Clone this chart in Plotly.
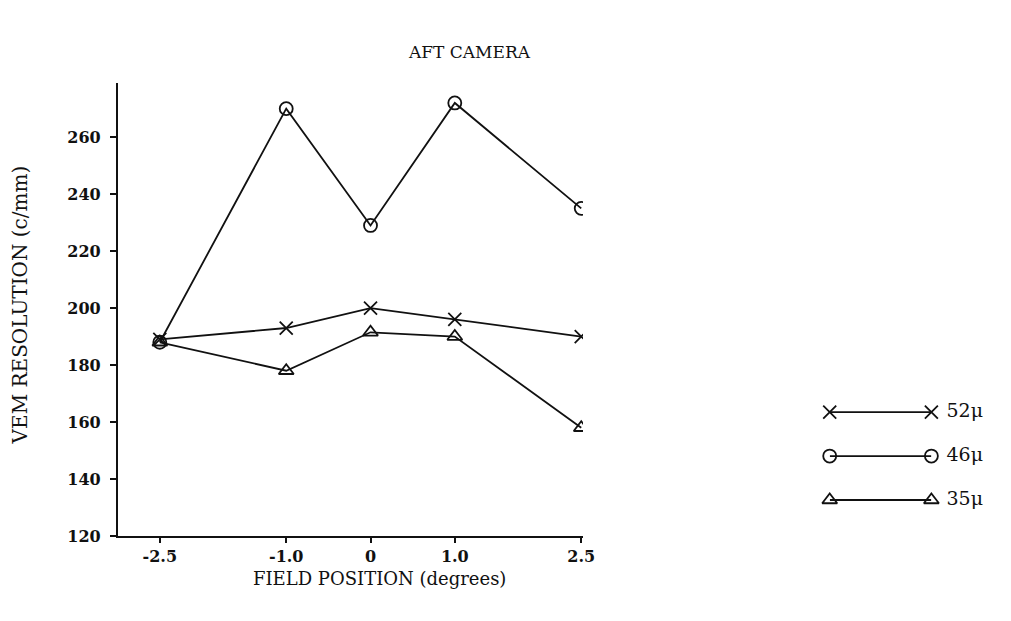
import plotly.graph_objects as go

# Field positions (degrees) and VEM resolution (c/mm) per film grain size
field_position = [-2.5, -1.0, 0.0, 1.0, 2.5]
res_52 = [189, 193, 200, 196, 190]
res_46 = [188, 270, 229, 272, 235]
res_35 = [188, 178, 191.5, 190, 158]

series_names = ["52\u03bc", "46\u03bc", "35\u03bc"]
series_symbols = ["x-thin-open", "circle-open", "triangle-up-open"]
y_ticks = [120, 140, 160, 180, 200, 220, 240, 260]
x_ticks = [-2.5, -1.0, 0.0, 1.0, 2.5]
x_tick_text = ["-2.5", "-1.0", "0", "1.0", "2.5"]

FONT = "DejaVu Serif"
INK = "#111111"
LW = 1.8

fig = go.Figure()

for vals, name, sym in zip([res_52, res_46, res_35], series_names, series_symbols):
    fig.add_trace(go.Scatter(
        x=field_position, y=vals, mode="lines+markers", name=name,
        line=dict(color=INK, width=LW),
        marker=dict(symbol=sym, size=13, color=INK, line=dict(color=INK, width=LW)),
        showlegend=False, xaxis="x", yaxis="y",
    ))

# Key drawn as line segments on a small separate axis
for row, (name, sym) in enumerate(zip(series_names, series_symbols)):
    fig.add_trace(go.Scatter(
        x=[0, 1], y=[3 - row, 3 - row], mode="lines+markers+text",
        text=["", " " + name], textposition="middle right",
        textfont=dict(family=FONT, size=19, color=INK),
        line=dict(color=INK, width=LW),
        marker=dict(symbol=sym, size=13, color=INK, line=dict(color=INK, width=LW)),
        showlegend=False, xaxis="x2", yaxis="y2", cliponaxis=False,
    ))

fig.update_layout(
    width=1011, height=621,
    margin=dict(l=118, r=20, t=83, b=85),
    paper_bgcolor="white", plot_bgcolor="white",
    font=dict(family=FONT, color=INK, size=14),
    annotations=[
        dict(text="AFT CAMERA", xref="paper", yref="paper", x=0.405, y=1.068,
             xanchor="center", yanchor="middle", showarrow=False,
             font=dict(family=FONT, size=17, color=INK)),
        dict(text="FIELD POSITION (degrees)", xref="paper", yref="paper",
             x=0.301, y=-0.093, xanchor="center", yanchor="middle",
             showarrow=False, font=dict(family=FONT, size=18, color=INK)),
        dict(text="VEM RESOLUTION (c/mm)", xref="paper", yref="paper",
             x=-0.1123, y=0.51, xanchor="center", yanchor="middle", textangle=-90,
             showarrow=False, font=dict(family=FONT, size=20, color=INK)),
    ],
    xaxis=dict(
        domain=[0, 0.535], range=[-2.996, 2.52],
        tickmode="array", tickvals=x_ticks, ticktext=x_tick_text,
        ticks="outside", ticklen=5, tickwidth=1.8, tickcolor=INK,
        showline=True, linecolor=INK, linewidth=2.2, showgrid=False, zeroline=False,
        tickfont=dict(family=FONT, size=16, color=INK, weight="bold"),
    ),
    yaxis=dict(
        range=[120, 279],
        tickmode="array", tickvals=y_ticks,
        ticks="outside", ticklen=6, tickwidth=1.8, tickcolor=INK,
        ticklabelstandoff=6,
        showline=True, linecolor=INK, linewidth=2.2, showgrid=False, zeroline=False,
        tickfont=dict(family=FONT, size=16, color=INK, weight="bold"),
    ),
    xaxis2=dict(domain=[0.819, 0.936], range=[0, 1], visible=False, anchor="y2"),
    yaxis2=dict(domain=[0.031, 0.322], range=[0.5, 3.5], visible=False, anchor="x2"),
)

fig.write_html("out.html")
